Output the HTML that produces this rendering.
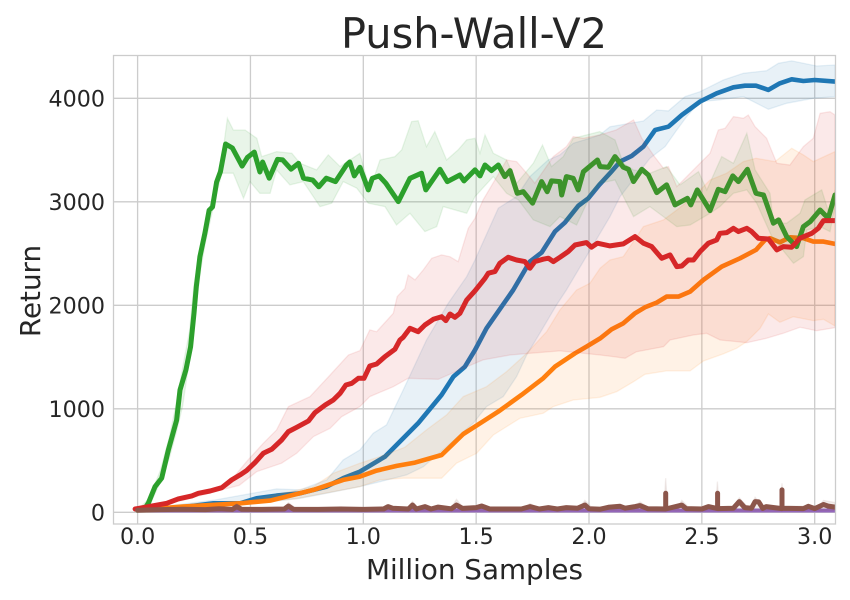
<!DOCTYPE html>
<html>
<head>
<meta charset="utf-8">
<style>
html,body{margin:0;padding:0;background:#fff;width:850px;height:600px;overflow:hidden}
svg{display:block}
text{font-family:"DejaVu Sans","Liberation Sans",sans-serif;fill:#262626}
</style>
</head>
<body>
<svg id="chart" width="850" height="600" viewBox="0 0 850 600" xmlns="http://www.w3.org/2000/svg"></svg>
<script>
const xTicks=[0,0.5,1,1.5,2,2.5,3];
const xTickLabels=["0.0","0.5","1.0","1.5","2.0","2.5","3.0"];
const yTicks=[0,1000,2000,3000,4000];
const yTickLabels=["0","1000","2000","3000","4000"];

const blueMean=[[0,20],[0.2,50],[0.336,87],[0.454,87],[0.527,135],[0.616,161],[0.72,184],[0.838,248],[0.911,329],[0.985,393],[1.096,538],[1.243,860],[1.347,1134],[1.399,1311],[1.45,1407],[1.495,1568],[1.546,1778],[1.664,2148],[1.738,2422],[1.79,2509],[1.849,2712],[1.893,2799],[1.952,2960],[1.997,3034],[2.045,3163],[2.093,3276],[2.138,3388],[2.189,3443],[2.241,3533],[2.293,3694],[2.352,3726],[2.411,3839],[2.492,3968],[2.566,4048],[2.64,4106],[2.691,4122],[2.74,4122],[2.795,4081],[2.846,4145],[2.898,4184],[2.95,4167],[3.0,4177],[3.09,4161]];
const blueUpper=[[0,25],[0.343,119],[0.469,168],[0.616,226],[0.72,216],[0.838,313],[0.911,506],[0.985,603],[1.044,763],[1.103,844],[1.177,1182],[1.28,1665],[1.376,2019],[1.458,2277],[1.495,2438],[1.598,2938],[1.679,3050],[1.738,3243],[1.819,3404],[1.871,3453],[1.93,3565],[2.004,3614],[2.048,3646],[2.093,3726],[2.241,3781],[2.3,3887],[2.352,3878],[2.426,4016],[2.492,4064],[2.595,4177],[2.684,4242],[2.787,4267],[2.839,4338],[2.898,4361],[3.009,4312],[3.09,4322]];
const blueLower=[[0,15],[0.454,71],[0.72,135],[0.838,184],[0.985,248],[1.074,296],[1.192,361],[1.266,441],[1.369,634],[1.487,860],[1.546,1021],[1.62,1118],[1.679,1311],[1.724,1520],[1.782,1729],[1.856,2003],[1.9,2148],[2.049,2696],[2.093,2857],[2.138,3050],[2.27,3420],[2.337,3533],[2.389,3694],[2.433,3823],[2.492,3968],[2.573,3984],[2.684,4016],[2.795,3894],[2.876,3952],[2.994,4000],[3.09,4016]];

const orangeMean=[[0,20],[0.2,55],[0.321,71],[0.454,87],[0.587,113],[0.69,168],[0.779,216],[0.911,313],[0.985,345],[1.059,403],[1.148,448],[1.229,480],[1.347,554],[1.443,757],[1.495,828],[1.598,973],[1.701,1134],[1.797,1295],[1.849,1407],[1.938,1536],[1.989,1601],[2.049,1680],[2.1,1768],[2.152,1826],[2.204,1923],[2.248,1981],[2.3,2026],[2.344,2084],[2.396,2084],[2.448,2132],[2.507,2245],[2.588,2374],[2.669,2454],[2.74,2535],[2.78,2632],[2.802,2648],[2.846,2609],[2.89,2657],[2.95,2648],[2.994,2615],[3.039,2615],[3.09,2593]];
const orangeUpper=[[0,25],[0.45,95],[0.779,248],[0.867,377],[0.985,474],[1.074,538],[1.184,628],[1.28,796],[1.369,941],[1.443,1118],[1.546,1214],[1.635,1359],[1.724,1536],[1.812,1745],[1.871,1955],[1.945,2148],[2.004,2213],[2.049,2358],[2.093,2438],[2.152,2471],[2.241,2760],[2.33,2825],[2.389,2921],[2.463,3050],[2.536,3211],[2.61,3276],[2.684,3388],[2.74,3420],[2.824,3388],[2.898,3517],[2.95,3453],[2.994,3388],[3.09,3485]];
const orangeLower=[[0,15],[0.45,75],[0.7,130],[0.985,248],[1.074,313],[1.177,329],[1.347,329],[1.413,474],[1.502,570],[1.576,747],[1.694,908],[1.797,957],[1.842,1021],[1.93,1085],[2.049,1111],[2.123,1166],[2.197,1262],[2.248,1333],[2.344,1366],[2.448,1366],[2.507,1462],[2.595,1530],[2.654,1585],[2.699,1649],[2.758,1778],[2.795,1916],[2.846,1836],[2.905,1890],[2.994,1852],[3.039,1865],[3.09,1800]];

const greenMean=[[0,20],[0.03,30],[0.048,90],[0.077,247],[0.107,330],[0.136,600],[0.173,890],[0.188,1182],[0.214,1375],[0.235,1600],[0.25,1923],[0.26,2180],[0.276,2470],[0.298,2697],[0.317,2918],[0.332,2950],[0.35,3190],[0.367,3290],[0.39,3558],[0.42,3520],[0.463,3345],[0.487,3430],[0.517,3480],[0.542,3288],[0.554,3385],[0.583,3228],[0.62,3410],[0.643,3405],[0.68,3315],[0.713,3372],[0.735,3228],[0.776,3210],[0.803,3145],[0.836,3228],[0.877,3195],[0.925,3355],[0.94,3385],[0.96,3250],[0.985,3333],[1.022,3115],[1.04,3227],[1.07,3250],[1.1,3179],[1.155,3002],[1.207,3227],[1.258,3276],[1.277,3115],[1.34,3314],[1.372,3195],[1.428,3259],[1.446,3202],[1.495,3308],[1.517,3250],[1.539,3356],[1.568,3301],[1.598,3356],[1.627,3243],[1.65,3301],[1.682,3082],[1.709,3098],[1.75,2986],[1.79,3195],[1.815,3098],[1.834,3202],[1.871,3195],[1.879,3066],[1.9,3243],[1.93,3227],[1.952,3115],[1.975,3291],[2.037,3404],[2.049,3340],[2.086,3334],[2.115,3437],[2.152,3334],[2.175,3314],[2.197,3195],[2.234,3314],[2.263,3259],[2.3,3089],[2.344,3163],[2.381,2970],[2.436,3034],[2.451,2970],[2.48,3115],[2.536,2915],[2.573,3121],[2.603,3098],[2.637,3250],[2.662,3195],[2.702,3314],[2.74,3082],[2.773,3066],[2.817,2793],[2.84,2825],[2.876,2664],[2.92,2567],[2.95,2760],[2.98,2809],[3.024,2921],[3.06,2841],[3.09,3066]];
const greenUpper=[[0,25],[0.05,130],[0.1,400],[0.14,720],[0.17,1040],[0.2,1400],[0.23,1750],[0.25,2200],[0.3,2800],[0.35,3179],[0.373,3404],[0.398,3807],[0.424,3694],[0.476,3694],[0.528,3614],[0.55,3437],[0.616,3485],[0.683,3469],[0.72,3372],[0.793,3308],[0.845,3453],[0.897,3340],[0.985,3469],[1.029,3115],[1.074,3404],[1.14,3437],[1.17,3501],[1.214,3775],[1.243,3784],[1.28,3533],[1.317,3678],[1.369,3404],[1.42,3501],[1.458,3598],[1.495,3614],[1.517,3469],[1.539,3646],[1.576,3469],[1.635,3404],[1.679,3179],[1.753,3372],[1.794,3549],[1.834,3340],[1.886,3437],[1.93,3614],[2.048,3678],[2.115,3598],[2.152,3372],[2.197,3308],[2.27,3276],[2.344,3340],[2.403,3163],[2.485,3292],[2.522,3115],[2.588,3437],[2.64,3372],[2.699,3662],[2.736,3308],[2.802,3082],[2.817,2793],[2.876,2793],[2.935,2889],[2.957,3018],[3.031,3115],[3.068,2857],[3.09,3115]];
const greenLower=[[0,15],[0.05,50],[0.1,290],[0.14,520],[0.17,760],[0.2,1030],[0.23,1480],[0.25,1850],[0.28,2350],[0.3,2600],[0.336,2954],[0.373,3276],[0.424,3276],[0.469,3034],[0.498,3195],[0.542,3082],[0.587,3082],[0.616,3308],[0.675,3163],[0.734,3195],[0.808,2954],[0.86,2986],[0.911,3195],[0.971,3131],[1.022,2986],[1.096,2954],[1.147,2776],[1.207,2889],[1.273,2712],[1.325,2760],[1.354,2954],[1.458,2889],[1.495,3050],[1.576,3243],[1.635,3082],[1.687,3018],[1.753,2825],[1.827,2760],[1.871,2857],[1.945,2776],[2.004,3050],[2.048,3179],[2.115,3211],[2.197,2857],[2.27,2954],[2.389,2760],[2.448,2776],[2.536,2889],[2.58,2954],[2.64,3082],[2.699,3115],[2.743,2986],[2.81,2664],[2.906,2406],[2.95,2471],[2.965,2728],[3.024,2760],[3.068,2712],[3.09,2954]];

const redMean=[[-0.011,32],[0,36],[0.129,87],[0.18,129],[0.24,158],[0.269,184],[0.321,206],[0.373,238],[0.417,313],[0.454,361],[0.483,403],[0.52,480],[0.557,570],[0.594,609],[0.638,699],[0.668,780],[0.705,821],[0.757,883],[0.786,963],[0.831,1037],[0.867,1085],[0.897,1150],[0.923,1230],[0.949,1246],[0.978,1295],[1.003,1295],[1.029,1414],[1.059,1433],[1.096,1504],[1.14,1575],[1.162,1665],[1.177,1691],[1.207,1778],[1.243,1745],[1.273,1810],[1.31,1865],[1.347,1890],[1.366,1852],[1.384,1916],[1.406,1884],[1.428,1923],[1.458,2051],[1.495,2140],[1.539,2261],[1.554,2310],[1.583,2326],[1.605,2406],[1.642,2464],[1.679,2438],[1.716,2422],[1.738,2358],[1.76,2422],[1.797,2445],[1.82,2455],[1.842,2422],[1.871,2464],[1.908,2519],[1.938,2583],[1.989,2606],[2.011,2561],[2.037,2600],[2.093,2574],[2.152,2593],[2.204,2664],[2.241,2600],[2.278,2567],[2.322,2454],[2.359,2487],[2.389,2374],[2.411,2380],[2.44,2438],[2.463,2438],[2.492,2519],[2.529,2600],[2.566,2632],[2.58,2696],[2.61,2702],[2.64,2744],[2.662,2712],[2.699,2744],[2.721,2712],[2.75,2648],[2.795,2641],[2.832,2535],[2.861,2567],[2.898,2561],[2.935,2648],[2.987,2696],[3.016,2744],[3.039,2818],[3.09,2818]];
const redUpper=[[0,40],[0.2,135],[0.395,260],[0.483,490],[0.557,667],[0.616,796],[0.668,1021],[0.764,1118],[0.853,1327],[0.934,1520],[0.985,1562],[1.029,1762],[1.059,1745],[1.133,1923],[1.15,2084],[1.184,2161],[1.199,2293],[1.229,2245],[1.266,2342],[1.303,2454],[1.347,2487],[1.384,2470],[1.42,2422],[1.465,2744],[1.495,2841],[1.531,3018],[1.605,3291],[1.635,3404],[1.679,3388],[1.724,3276],[1.76,3180],[1.842,3437],[1.9,3533],[1.93,3630],[1.975,3614],[2.049,3646],[2.12,3694],[2.197,3791],[2.234,3614],[2.29,3437],[2.33,3324],[2.352,3340],[2.389,3147],[2.477,3340],[2.536,3469],[2.573,3694],[2.603,3710],[2.64,3823],[2.684,3807],[2.706,3839],[2.736,3726],[2.787,3614],[2.832,3372],[2.89,3356],[2.95,3533],[2.994,3614],[3.024,3855],[3.068,3871],[3.09,3839]];
const redLower=[[0,30],[0.2,115],[0.37,215],[0.45,260],[0.528,393],[0.638,474],[0.705,570],[0.779,731],[0.853,812],[0.904,924],[0.985,1021],[1.029,1118],[1.133,1214],[1.199,1295],[1.332,1285],[1.443,1391],[1.531,1472],[1.65,1520],[1.738,1536],[1.871,1559],[2.049,1520],[2.108,1504],[2.16,1488],[2.211,1552],[2.33,1600],[2.359,1665],[2.462,1713],[2.521,1729],[2.581,1665],[2.654,1649],[2.699,1639],[2.787,1681],[2.861,1729],[2.935,1787],[3.009,1755],[3.09,1784]];

const purpleMean=[[0,17],[1,17],[2,17],[3.09,17]];

const brownMean=[[0,20],[0.1,26],[0.2,30],[0.3,26],[0.36,34],[0.42,28],[0.439,55],[0.46,30],[0.55,28],[0.65,32],[0.668,61],[0.69,30],[0.8,28],[0.9,32],[1.0,28],[1.09,32],[1.11,55],[1.13,40],[1.2,32],[1.218,71],[1.235,32],[1.273,55],[1.3,32],[1.332,50],[1.39,34],[1.413,71],[1.44,38],[1.5,45],[1.524,61],[1.56,32],[1.7,32],[1.738,55],[1.78,32],[1.82,45],[1.86,32],[1.9,45],[1.95,40],[1.982,71],[2.0,35],[2.05,30],[2.086,48],[2.138,58],[2.16,40],[2.204,55],[2.226,65],[2.26,35],[2.34,32],[2.34,184],[2.34,32],[2.411,70],[2.43,36],[2.5,32],[2.529,55],[2.57,36],[2.57,184],[2.57,36],[2.64,40],[2.666,103],[2.69,45],[2.72,40],[2.736,103],[2.752,100],[2.77,38],[2.785,55],[2.855,36],[2.855,216],[2.855,40],[2.95,36],[2.972,58],[3.0,36],[3.039,75],[3.06,60],[3.09,50]];
const brownUpper=[[0,25],[0.42,38],[0.439,85],[0.46,38],[0.65,42],[0.668,95],[0.7,42],[1.2,46],[1.218,105],[1.24,48],[1.39,48],[1.413,125],[1.44,52],[1.72,48],[1.738,85],[1.77,48],[1.96,50],[1.982,115],[2.01,52],[2.2,55],[2.226,100],[2.26,52],[2.332,52],[2.34,329],[2.348,52],[2.395,55],[2.411,115],[2.44,52],[2.561,52],[2.569,297],[2.577,52],[2.64,55],[2.666,140],[2.7,58],[2.72,58],[2.736,145],[2.77,58],[2.847,58],[2.855,280],[2.863,58],[3.02,62],[3.039,115],[3.09,95]];
const brownLower=[[0,12],[1.5,15],[3.09,18]];

const X=v=>137.6+v*225.7;
const Y=v=>512.3-v*0.1035;
const svg=document.getElementById('chart');
const NS='http://www.w3.org/2000/svg';
function el(tag,attrs,parent){const e=document.createElementNS(NS,tag);for(const k in attrs)e.setAttribute(k,attrs[k]);(parent||svg).appendChild(e);return e;}
const pts=a=>a.map(p=>X(p[0]).toFixed(1)+','+Y(p[1]).toFixed(1)).join(' ');

const defs=el('defs',{});
const cp=el('clipPath',{id:'plot-clip'},defs);
el('rect',{x:113.5,y:55.5,width:722,height:468.5},cp);

const grid=el('g',{});


xTicks.forEach(t=>{
  const l=el('line',{x1:X(t),x2:X(t),y1:55.5,y2:524,stroke:'#cccccc','stroke-width':1.3},grid);
  
  
});
yTicks.forEach(t=>{
  const l=el('line',{x1:113.5,x2:835.5,y1:Y(t),y2:Y(t),stroke:'#cccccc','stroke-width':1.3},grid);
  
  
});

const plot=el('g',{'clip-path':'url(#plot-clip)'});



function band(upper,lower,color,name){
  const poly=el('polygon',{points:pts(upper)+' '+pts(lower.slice().reverse()),fill:color,'fill-opacity':0.1,stroke:color,'stroke-opacity':0.1,'stroke-width':1.3},plot);
  
  
}
function line(mean,color,name,width){
  const pl=el('polyline',{points:pts(mean),fill:'none',stroke:color,'stroke-width':width,'stroke-linejoin':'round','stroke-linecap':'round'},plot);
  
  
}
band(blueUpper,blueLower,'#1f77b4','blue-band');
line(blueMean,'#1f77b4','blue-line',4.6);
band(orangeUpper,orangeLower,'#ff7f0e','orange-band');
line(orangeMean,'#ff7f0e','orange-line',4.6);
band(greenUpper,greenLower,'#2ca02c','green-band');
line(greenMean,'#2ca02c','green-line',5);
band(redUpper,redLower,'#d62728','red-band');
line(redMean,'#d62728','red-line',5);
line(purpleMean,'#9467bd','purple-line',4);
band(brownUpper,brownLower,'#8c564b','brown-band');
line(brownMean,'#8c564b','brown-line',5);

const frame=el('rect',{x:113.5,y:55.5,width:722,height:468.5,fill:'none',stroke:'#cccccc','stroke-width':1.3});



xTicks.forEach((t,i)=>{
  const s=el('text',{x:X(t),y:544,'text-anchor':'middle','font-size':22.2});
  s.textContent=xTickLabels[i];
  
  
});
yTicks.forEach((t,i)=>{
  const s=el('text',{x:105,y:Y(t)+8,'text-anchor':'end','font-size':22.2});
  s.textContent=yTickLabels[i];
  
  
});
const title=el('text',{x:474,y:48,'text-anchor':'middle','font-size':41.5});
title.textContent='Push-Wall-V2';


const xl=el('text',{x:474.5,y:579,'text-anchor':'middle','font-size':27.8});
xl.textContent='Million Samples';


const yl=el('text',{x:0,y:0,'text-anchor':'middle','font-size':27.8,transform:'translate(40,291) rotate(-90)'});
yl.textContent='Return';


</script>
</body>
</html>
